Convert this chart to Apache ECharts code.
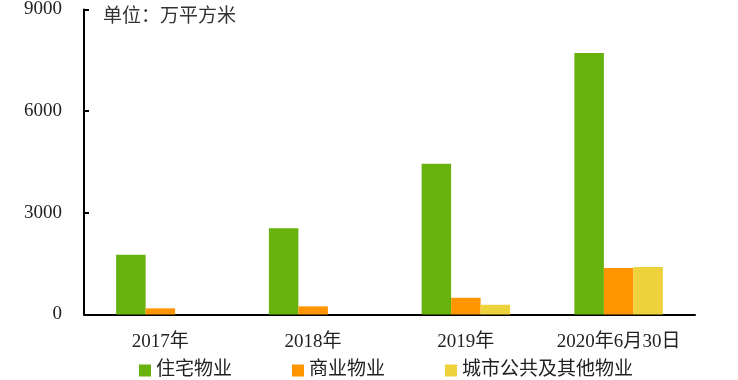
<!DOCTYPE html>
<html><head><meta charset="utf-8">
<script src="https://cdn.jsdelivr.net/npm/echarts@6/dist/echarts.min.js"></script>
<style>html,body{margin:0;padding:0;background:#fff}#c{width:738px;height:380px}</style>
</head><body><div id="c"></div>
<script>
const categories = ['2017年', '2018年', '2019年', '2020年6月30日'];
const residential = [1765, 2545, 4450, 7720];
const commercial = [182, 240, 493, 1372];
const publicOther = [0, 0, 287, 1401];
const seriesNames = ['住宅物业', '商业物业', '城市公共及其他物业'];
const yTicks = [0, 3000, 6000, 9000];

const FONT = '"Liberation Serif", "Noto Sans CJK SC", serif';
const chart = echarts.init(document.getElementById('c'));
chart.setOption({
  animation: false,
  textStyle: { fontFamily: FONT },
  grid: { left: 84, right: 43, top: 7.5, bottom: 65.5 },
  graphic: [{ type: 'text', left: 103, top: 8, style: { text: '单位：万平方米', font: '19px ' + FONT, fill: '#333' } }],
  legend: {
    left: 134, top: 356, itemWidth: 12, itemHeight: 12, itemGap: 60, icon: 'rect',
    textStyle: { fontSize: 19, color: '#222', fontFamily: FONT },
    data: seriesNames
  },
  xAxis: {
    type: 'category', data: categories,
    axisLine: { lineStyle: { color: '#000', width: 2 } },
    axisTick: { inside: true, length: 5, lineStyle: { color: '#000', width: 2 } },
    axisLabel: { color: '#222', fontSize: 19, margin: 18, interval: 0, fontFamily: FONT }
  },
  yAxis: {
    type: 'value', min: yTicks[0], max: yTicks[yTicks.length - 1], interval: 3000,
    axisLine: { show: true, lineStyle: { color: '#000', width: 2 } },
    axisTick: { show: true, inside: true, length: 5, lineStyle: { color: '#000', width: 2 } },
    splitLine: { show: false },
    axisLabel: { color: '#222', fontSize: 19, margin: 22, fontFamily: FONT, formatter: v => String(v) }
  },
  series: [
    { name: seriesNames[0], type: 'bar', data: residential, barWidth: 29.5, barGap: '0%', itemStyle: { color: '#67B20C' } },
    { name: seriesNames[1], type: 'bar', data: commercial, barWidth: 29.5, barGap: '0%', itemStyle: { color: '#FF9500' } },
    { name: seriesNames[2], type: 'bar', data: publicOther, barWidth: 29.5, barGap: '0%', itemStyle: { color: '#EED23C' } }
  ]
});
</script></body></html>
